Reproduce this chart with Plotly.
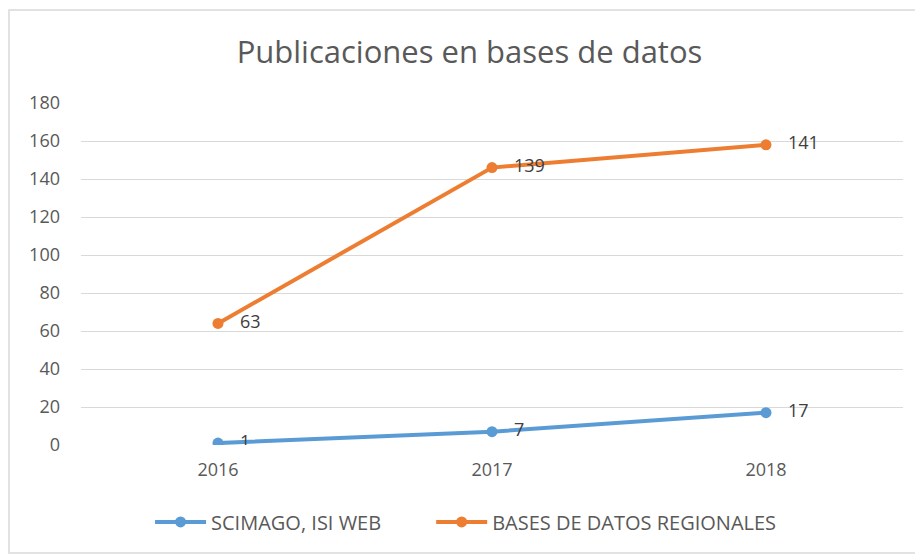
import plotly.graph_objects as go

# Data (stacked line chart, labels show raw values)
years = ["2016", "2017", "2018"]
scimago = [1, 7, 17]
regionales = [63, 139, 141]
y_ticks = [0, 20, 40, 60, 80, 100, 120, 140, 160, 180]

BLUE = "#5B9BD5"
ORANGE = "#ED7D31"
FONT = "Open Sans"
PAD = "\u00a0" * 3

fig = go.Figure()

series = [
    ("SCIMAGO, ISI WEB", scimago, BLUE, "legend"),
    ("BASES DE DATOS REGIONALES", regionales, ORANGE, "legend2"),
]

for name, values, color, leg in series:
    fig.add_trace(
        go.Scatter(
            x=years,
            y=values,
            name=name,
            legend=leg,
            stackgroup="one",
            fill="none",
            mode="lines+markers+text",
            line=dict(color=color, width=4),
            marker=dict(color=color, size=11),
            text=[PAD + str(v) for v in values],
            textposition="middle right",
            textfont=dict(family=FONT, size=18, color="#404040"),
        )
    )

# Outer chart border
fig.add_shape(
    type="rect", xref="paper", yref="paper",
    x0=-0.0876, x1=1.023, y0=-0.316, y1=1.272,
    line=dict(color="#D9D9D9", width=1.5),
)

legend_style = dict(
    orientation="h",
    xanchor="left",
    y=-0.225,
    yanchor="middle",
    itemwidth=51,
    font=dict(family=FONT, size=20, color="#595959"),
)

# the page body adds an 8px offset, margins take that into account
fig.update_layout(
    width=923,
    height=555,
    margin=dict(l=73, r=28, t=95, b=118, autoexpand=False),
    paper_bgcolor="white",
    plot_bgcolor="white",
    title=dict(
        text="Publicaciones en bases de datos",
        x=0.5,
        xanchor="center",
        y=0.921,
        yanchor="middle",
        font=dict(family=FONT, size=31, color="#595959"),
    ),
    xaxis=dict(
        range=[-0.5, 2.5],
        showgrid=False,
        showline=False,
        zeroline=False,
        ticks="",
        ticklabelstandoff=12,
        tickfont=dict(family=FONT, size=18, color="#595959"),
    ),
    yaxis=dict(
        range=[0, 180],
        tickvals=y_ticks,
        showgrid=True,
        gridcolor="#D9D9D9",
        gridwidth=1,
        zeroline=False,
        ticks="",
        ticklabelstandoff=20,
        tickfont=dict(family=FONT, size=18, color="#595959"),
    ),
    legend=dict(x=0.084, **legend_style),
    legend2=dict(x=0.426, **legend_style),
    showlegend=True,
)

fig.write_html("out.html")
